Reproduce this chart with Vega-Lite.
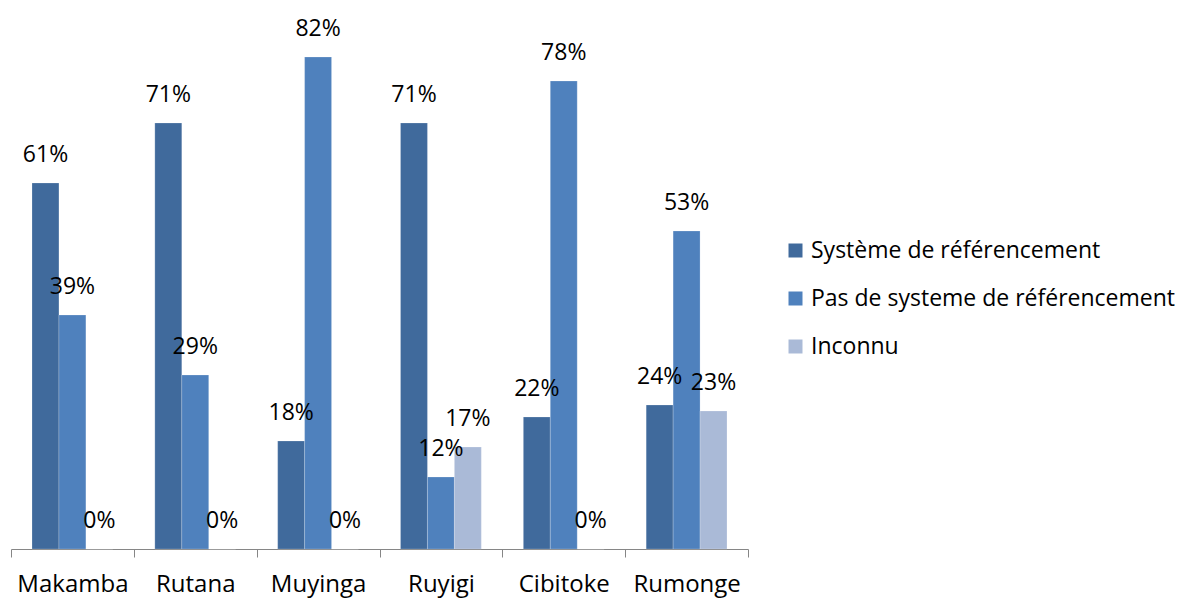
{
  "$schema": "https://vega.github.io/schema/vega-lite/v6.json",
  "autosize": "none",
  "width": 737,
  "height": 540,
  "padding": {"left": 11, "top": 9, "right": 432, "bottom": 49},
  "background": "white",
  "config": {"view": {"stroke": null}, "font": "Open Sans"},
  "data": {"values": [
    {"region": "Makamba", "serie": "Système de référencement", "v": 0.61},
    {"region": "Makamba", "serie": "Pas de systeme de référencement", "v": 0.39},
    {"region": "Makamba", "serie": "Inconnu", "v": 0.0},
    {"region": "Rutana", "serie": "Système de référencement", "v": 0.71},
    {"region": "Rutana", "serie": "Pas de systeme de référencement", "v": 0.29},
    {"region": "Rutana", "serie": "Inconnu", "v": 0.0},
    {"region": "Muyinga", "serie": "Système de référencement", "v": 0.18},
    {"region": "Muyinga", "serie": "Pas de systeme de référencement", "v": 0.82},
    {"region": "Muyinga", "serie": "Inconnu", "v": 0.0},
    {"region": "Ruyigi", "serie": "Système de référencement", "v": 0.71},
    {"region": "Ruyigi", "serie": "Pas de systeme de référencement", "v": 0.12},
    {"region": "Ruyigi", "serie": "Inconnu", "v": 0.17},
    {"region": "Cibitoke", "serie": "Système de référencement", "v": 0.22},
    {"region": "Cibitoke", "serie": "Pas de systeme de référencement", "v": 0.78},
    {"region": "Cibitoke", "serie": "Inconnu", "v": 0.0},
    {"region": "Rumonge", "serie": "Système de référencement", "v": 0.24},
    {"region": "Rumonge", "serie": "Pas de systeme de référencement", "v": 0.53},
    {"region": "Rumonge", "serie": "Inconnu", "v": 0.23}
  ]},
  "encoding": {
    "x": {
      "field": "region", "type": "nominal", "sort": null,
      "scale": {"paddingInner": 0, "paddingOuter": 0},
      "axis": {
        "title": null, "labelAngle": 0, "labelFontSize": 24, "labelColor": "#000000",
        "labelFont": "Open Sans", "labelPadding": 15,
        "domainColor": "#868686", "tickColor": "#868686", "tickSize": 8,
        "tickBand": "extent", "grid": false
      }
    },
    "xOffset": {
      "field": "serie", "type": "nominal",
      "sort": ["Système de référencement", "Pas de systeme de référencement", "Inconnu"],
      "scale": {"paddingInner": 0, "paddingOuter": 0.78}
    },
    "y": {
      "field": "v", "type": "quantitative",
      "scale": {"domain": [0, 0.9], "nice": false},
      "axis": null
    }
  },
  "layer": [
    {
      "mark": {"type": "bar", "stroke": "#ffffff", "strokeWidth": 0.4, "strokeOpacity": 0.5},
      "encoding": {
        "color": {
          "field": "serie", "type": "nominal",
          "sort": ["Système de référencement", "Pas de systeme de référencement", "Inconnu"],
          "scale": {
            "domain": ["Système de référencement", "Pas de systeme de référencement", "Inconnu"],
            "range": ["#406a9c", "#4f81bd", "#aabad7"]
          },
          "legend": {
            "title": null, "orient": "none", "legendX": 773, "legendY": 230,
            "symbolType": "square", "symbolSize": 196, "symbolStrokeWidth": 0,
            "labelFontSize": 23, "labelFont": "Open Sans", "labelColor": "#000000",
            "rowPadding": 24, "labelOffset": 4, "labelLimit": 420
          }
        }
      }
    },
    {
      "mark": {"type": "text", "fontSize": 23, "font": "Open Sans", "color": "#000000", "baseline": "middle", "dy": -28},
      "encoding": {
        "text": {"field": "v", "type": "quantitative", "format": ".0%"}
      }
    }
  ]
}
